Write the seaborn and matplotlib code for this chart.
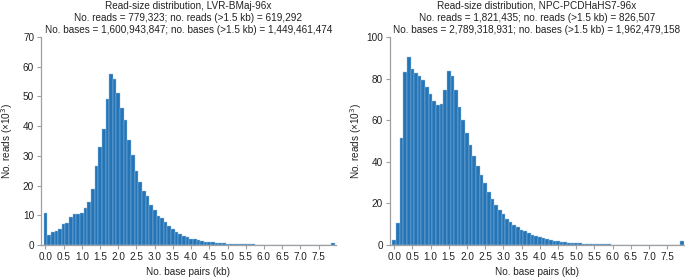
import numpy as np
import pandas as pd
import matplotlib
matplotlib.use('Agg')
import matplotlib.pyplot as plt
import seaborn as sns

# ── Data (counts in thousands per 0.1 kb bin) ───────────────────────────────
bin_starts = np.round(np.arange(0.0, 8.0, 0.1), 1)   # 0.0 … 7.9 (last = overflow)

lvr_counts = [
    10.7, 3.5, 4.2, 4.6, 5.3, 7.2, 7.3, 9.5, 10.4, 10.3,
    10.8, 12.4, 14.6, 18.9, 26.7, 33.0, 38.9, 49.0, 57.7, 56.0,
    51.3, 46.1, 42.2, 35.2, 30.3, 24.9, 21.3, 18.3, 16.4, 13.5,
    11.6, 9.9, 9.2, 7.6, 6.5, 5.3, 4.4, 3.7, 3.1, 2.6,
    2.1, 1.9, 1.6, 1.35, 1.1, 1.0, 0.85, 0.7, 0.6, 0.5,
    0.45, 0.38, 0.33, 0.28, 0.24, 0.2, 0.17, 0.15, 0.13, 0.11,
    0.1, 0.09, 0.08, 0.07, 0.06, 0.055, 0.05, 0.045, 0.04, 0.035,
    0.03, 0.03, 0.025, 0.025, 0.02, 0.02, 0.02, 0.015, 0.015, 0.5,
]
npc_counts = [
    2.4, 10.6, 51.6, 83.2, 90.2, 84.8, 82.5, 81.3, 79.5, 76.1,
    72.8, 69.2, 67.3, 67.9, 74.7, 83.7, 81.3, 74.4, 66.3, 60.1,
    53.7, 48.1, 42.8, 38.0, 33.5, 29.6, 25.6, 22.1, 19.4, 17.0,
    14.7, 12.6, 10.9, 9.6, 8.5, 7.2, 6.6, 5.8, 4.8, 4.3,
    3.7, 3.2, 2.8, 2.4, 2.1, 1.8, 1.5, 1.3, 1.1, 0.95,
    0.8, 0.7, 0.6, 0.5, 0.45, 0.4, 0.35, 0.3, 0.27, 0.24,
    0.2, 0.18, 0.16, 0.14, 0.13, 0.12, 0.11, 0.1, 0.09, 0.08,
    0.075, 0.07, 0.065, 0.06, 0.055, 0.05, 0.05, 0.045, 0.045, 1.9,
]

titles = [
    "Read-size distribution, LVR-BMaj-96x\n"
    "No. reads = 779,323; no. reads (>1.5 kb) = 619,292\n"
    "No. bases = 1,600,943,847; no. bases (>1.5 kb) = 1,449,461,474",
    "Read-size distribution, NPC-PCDHaHS7-96x\n"
    "No. reads = 1,821,435; no. reads (>1.5 kb) = 826,507\n"
    "No. bases = 2,789,318,931; no. bases (>1.5 kb) = 1,962,479,158",
]
y_maxes = [70, 100]
y_steps = [10, 20]
x_ticks = np.round(np.arange(0.0, 7.6, 0.5), 1)

# ── Style ────────────────────────────────────────────────────────────────────
sns.set_theme(style='ticks')
plt.rcParams['font.family'] = ['Liberation Sans', 'DejaVu Sans']
plt.rcParams['text.color'] = '#222222'
plt.rcParams['axes.labelcolor'] = '#222222'
BAR_COLOR  = '#2474b6'
EDGE_COLOR = '#9cc2e4'
AXIS_GREY  = '#a0a0a0'
FS = 7.2

fig = plt.figure(figsize=(6.85, 2.78), dpi=100)
positions = [[0.060, 0.119, 0.430, 0.748], [0.569, 0.119, 0.430, 0.748]]

for pos, counts, title, ymax, ystep in zip(positions, [lvr_counts, npc_counts],
                                           titles, y_maxes, y_steps):
    ax = fig.add_axes(pos)
    df = pd.DataFrame({'kb': bin_starts, 'reads': counts})
    sns.histplot(data=df, x='kb', weights='reads', binwidth=0.1,
                 binrange=(-0.05, 7.95), color=BAR_COLOR, alpha=1,
                 edgecolor=EDGE_COLOR, linewidth=0.3, ax=ax)
    ax.set_xlim(-0.12, 7.97)
    ax.set_ylim(0, ymax)
    ax.set_xticks(x_ticks)
    ax.set_xticklabels([f'{t:.1f}' for t in x_ticks])
    ax.set_yticks(np.arange(0, ymax + 1, ystep))
    ax.tick_params(labelsize=FS, length=3, width=0.8, color=AXIS_GREY,
                   labelcolor='#222222', pad=2)
    for side in ['top', 'right']:
        ax.spines[side].set_visible(False)
    for side in ['left', 'bottom']:
        ax.spines[side].set_color(AXIS_GREY)
        ax.spines[side].set_linewidth(0.9)
    ax.set_title(title, fontsize=FS, linespacing=1.25, pad=3)
    ax.set_xlabel('No. base pairs (kb)', fontsize=FS, labelpad=4)
    ax.set_ylabel('No. reads (×10$^3$)', fontsize=FS)
    ax.yaxis.set_label_coords(-0.088, 0.5)

fig.savefig('out.png', dpi=100)
